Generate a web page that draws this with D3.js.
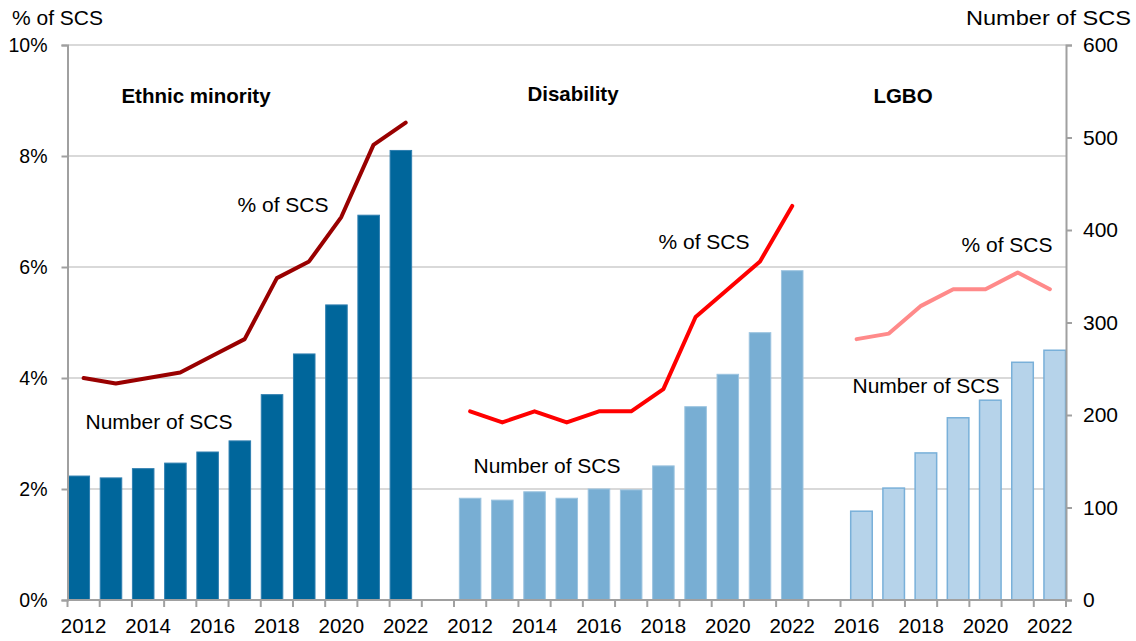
<!DOCTYPE html>
<html><head><meta charset="utf-8">
<script src="https://cdn.jsdelivr.net/npm/d3@7"></script>
<style>
body{margin:0;background:#fff;}
text{font-family:"Liberation Sans",Arial,sans-serif;fill:#000;}
</style></head>
<body><svg id="c" width="1136" height="641"></svg>
<script>
const ethnicYears = [2012,2013,2014,2015,2016,2017,2018,2019,2020,2021,2022];
const ethnicPct = [4.0,3.9,4.0,4.1,4.4,4.7,5.8,6.1,6.9,8.2,8.6];
const ethnicNum = [134,132,142,148,160,172,222,266,319,416,486];
const disabilityYears = [2012,2013,2014,2015,2016,2017,2018,2019,2020,2021,2022];
const disabilityPct = [3.4,3.2,3.4,3.2,3.4,3.4,3.8,5.1,5.6,6.1,7.1];
const disabilityNum = [110,108,117,110,120,119,145,209,244,289,356];
const lgboYears = [2016,2017,2018,2019,2020,2021,2022];
const lgboPct = [4.7,4.8,5.3,5.6,5.6,5.9,5.6];
const lgboNum = [96,121,159,197,216,257,270];
const leftTicks = [0,2,4,6,8,10];
const rightTicks = [0,100,200,300,400,500,600];

const groups = [
  {key:"E", years:ethnicYears, pct:ethnicPct, num:ethnicNum, name:"Ethnic minority",
   fill:"#00669b", stroke:"#2f7fb0", line:"#990000", shift:-1},
  {key:"D", years:disabilityYears, pct:disabilityPct, num:disabilityNum, name:"Disability",
   fill:"#78aed3", stroke:"#9cc4e0", line:"#ff0000", shift:0},
  {key:"L", years:lgboYears, pct:lgboPct, num:lgboNum, name:"LGBO",
   fill:"#b6d3ea", stroke:"#79b0d9", line:"#ff8a8a", shift:1}
];

const cats = [];
groups.forEach((g,i)=>{
  g.years.forEach(y=>cats.push({id:g.key+y, year:y}));
  if(i<groups.length-1) cats.push({id:"gap"+i, year:null});
});

const svg = d3.select("#c");
const L=67.5, R=1066, T=45, B=600;
const x = d3.scaleBand().domain(cats.map(c=>c.id)).range([L,R]).padding(0);
const yP = d3.scaleLinear().domain([0,10]).range([B,T]);
const yN = d3.scaleLinear().domain([0,600]).range([B,T]);

// gridlines
svg.append("g").selectAll("line").data(leftTicks.filter(d=>d>0)).join("line")
  .attr("x1",L).attr("x2",R).attr("y1",d=>yP(d)).attr("y2",d=>yP(d))
  .attr("stroke","#d9d9d9").attr("stroke-width",2);

const bw = x.bandwidth();
const barW = bw*0.7;
groups.forEach(g=>{
  const off = (bw-barW)/2*(1+g.shift);
  svg.append("g").selectAll("rect").data(g.years.map((y,i)=>({id:g.key+y, v:g.num[i]}))).join("rect")
    .attr("x",d=>x(d.id)+off+0.5).attr("width",barW-1)
    .attr("y",d=>yN(d.v)).attr("height",d=>B-yN(d.v))
    .attr("fill",g.fill).attr("stroke",g.stroke).attr("stroke-width",g.key==="L"?1.5:1);
});

const line = d3.line().x(d=>x(d.id)+bw/2).y(d=>yP(d.v));
groups.forEach(g=>{
  svg.append("path").datum(g.years.map((y,i)=>({id:g.key+y, v:g.pct[i]})))
    .attr("d",line).attr("fill","none").attr("stroke",g.line).attr("stroke-width",4)
    .attr("stroke-linejoin","round").attr("stroke-linecap","round");
});

// axes
const axC = "#a0a0a0";
const gl = svg.append("g").attr("transform",`translate(${L},0)`)
  .call(d3.axisLeft(yP).tickValues(leftTicks).tickFormat(d=>d+"%").tickSize(6).tickPadding(14));
const gr = svg.append("g").attr("transform",`translate(${R},0)`)
  .call(d3.axisRight(yN).tickValues(rightTicks).tickSize(6).tickPadding(11));
const gb = svg.append("g").attr("transform",`translate(0,${B})`)
  .call(d3.axisBottom(x).tickValues(cats.filter(c=>c.year && c.year%2===0).map(c=>c.id))
    .tickFormat(id=>cats.find(c=>c.id===id).year).tickSize(0).tickPadding(18));
[gl,gr,gb].forEach(g=>{
  g.select(".domain").attr("stroke",axC).attr("stroke-width",2);
  g.selectAll(".tick line").attr("stroke",axC).attr("stroke-width",2);
  g.selectAll(".tick text").attr("font-family","Liberation Sans, Arial, sans-serif").attr("fill","#000");
});
gl.selectAll(".tick text").attr("font-size",19.5);
gr.selectAll(".tick text").attr("font-size",21);
gb.selectAll(".tick text").attr("font-size",20.5);
gb.select(".domain").attr("d",`M${L},0H${R}`);
// category boundary ticks
const bounds = cats.map(c=>x(c.id)).concat([R]);
svg.append("g").selectAll("line").data(bounds).join("line")
  .attr("x1",d=>d).attr("x2",d=>d).attr("y1",B).attr("y2",B+7)
  .attr("stroke",axC).attr("stroke-width",2);

// titles
svg.append("text").attr("x",12).attr("y",25).attr("font-size",21).text("% of SCS");
svg.append("text").attr("x",1131).attr("y",25).attr("text-anchor","end").attr("font-size",21)
  .attr("textLength",165).attr("lengthAdjust","spacingAndGlyphs").text("Number of SCS");

// annotations
const ann = [
  {t:"Ethnic minority", x:196, y:95, b:true},
  {t:"Disability", x:573, y:93, b:true},
  {t:"LGBO", x:903, y:95, b:true},
  {t:"% of SCS", x:283, y:204},
  {t:"% of SCS", x:704, y:241},
  {t:"% of SCS", x:1007, y:244},
  {t:"Number of SCS", x:159, y:421},
  {t:"Number of SCS", x:547, y:465},
  {t:"Number of SCS", x:926, y:385}
];
svg.append("g").selectAll("text").data(ann).join("text")
  .attr("x",d=>d.x).attr("y",d=>d.y+7.5).attr("text-anchor","middle")
  .attr("font-size",d=>d.b?20.5:21).attr("font-weight",d=>d.b?"bold":"normal").text(d=>d.t);
</script></body></html>
